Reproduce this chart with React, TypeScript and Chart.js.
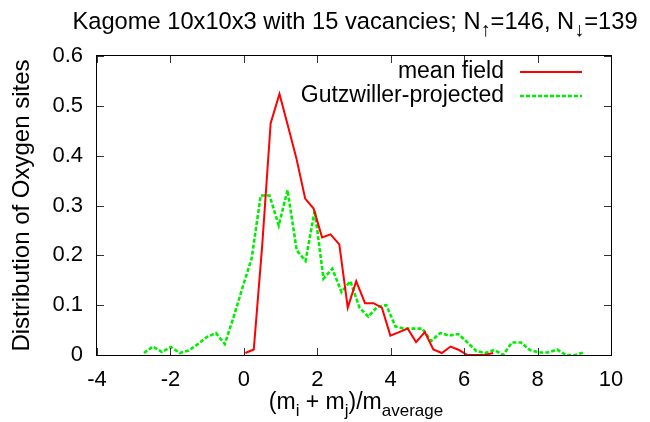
import { useEffect, useRef } from "react";
import { Chart, registerables } from "chart.js";

Chart.register(...registerables);

const FONT = "'Liberation Sans', Arial, Helvetica, sans-serif";

// Histogram of (m_i + m_j)/m_average over Oxygen sites
const meanFieldX = [0.04, 0.27, 0.5, 0.73, 0.97, 1.2, 1.43, 1.67, 1.9, 2.13, 2.36, 2.6, 2.83, 3.06, 3.3, 3.53, 3.76, 3.99, 4.23, 4.46, 4.69, 4.93, 5.16, 5.39, 5.63, 5.86, 6.09, 6.32, 6.56, 6.79];
const meanFieldY = [0.004, 0.011, 0.22, 0.465, 0.524, 0.46, 0.395, 0.314, 0.294, 0.236, 0.242, 0.222, 0.095, 0.148, 0.104, 0.104, 0.095, 0.039, 0.046, 0.053, 0.026, 0.046, 0.011, 0.004, 0.017, 0.01, 0, 0, 0, 0.004];

const gutzwillerX = [-2.72, -2.48, -2.23, -1.99, -1.74, -1.5, -1.25, -1.01, -0.76, -0.52, -0.28, -0.03, 0.21, 0.46, 0.7, 0.95, 1.19, 1.44, 1.68, 1.93, 2.17, 2.41, 2.66, 2.9, 3.15, 3.39, 3.64, 3.88, 4.13, 4.37, 4.62, 4.86, 5.1, 5.35, 5.59, 5.84, 6.08, 6.33, 6.57, 6.82, 7.06, 7.3, 7.55, 7.79, 8.04, 8.28, 8.53, 8.77, 9.02, 9.26];
const gutzwillerY = [0.004, 0.017, 0.006, 0.016, 0.004, 0.009, 0.022, 0.036, 0.044, 0.022, 0.076, 0.137, 0.193, 0.32, 0.32, 0.26, 0.331, 0.21, 0.189, 0.29, 0.153, 0.173, 0.126, 0.148, 0.095, 0.077, 0.097, 0.1, 0.057, 0.053, 0.053, 0.053, 0.028, 0.044, 0.039, 0.042, 0.026, 0.008, 0.004, 0.01, 0, 0.025, 0.025, 0.01, 0.005, 0.005, 0.011, 0, 0, 0.005];

const xTicks = [-4, -2, 0, 2, 4, 6, 8, 10];
const yTicks = [0, 0.1, 0.2, 0.3, 0.4, 0.5, 0.6];

const seriesNames = ["mean field", "Gutzwiller-projected"];
const seriesColors = ["#ff0000", "#00ee00"];

// [text, isSubscript]
const titleParts: [string, boolean][] = [
  ["Kagome 10x10x3 with 15 vacancies; N", false],
  ["\u2191", true],
  ["=146, N", false],
  ["\u2193", true],
  ["=139", false],
];
const xTitleParts: [string, boolean][] = [
  ["(m", false],
  ["i", true],
  [" + m", false],
  ["j", true],
  [")/m", false],
  ["average", true],
];
const yTitle = "Distribution of Oxygen sites";

const TEXT_SIZE = 23;
const TITLE_SIZE = 23.7;
const TICK_SIZE = 22;

function drawRich(ctx: CanvasRenderingContext2D, parts: [string, boolean][], cx: number, baseline: number, size: number, subScale: number) {
  const sub = Math.round(size * subScale);
  const widths = parts.map(([t, s]) => {
    ctx.font = `${s ? sub : size}px ${FONT}`;
    return ctx.measureText(t).width;
  });
  const total = widths.reduce((a, b) => a + b, 0);
  let x = cx - total / 2;
  ctx.textAlign = "left";
  ctx.textBaseline = "alphabetic";
  parts.forEach(([t, s], i) => {
    ctx.font = `${s ? sub : size}px ${FONT}`;
    ctx.fillText(t, x, baseline + (s ? size * 0.3 : 0));
    x += widths[i];
  });
}

const gnuplotFrame = {
  id: "gnuplotFrame",
  afterDatasetsDraw(chart: any) {
    const { ctx, chartArea } = chart;
    const { left, right, top, bottom } = chartArea;
    const xs = chart.scales.x;
    const ys = chart.scales.y;
    ctx.save();

    // inward tick marks on all four sides
    ctx.strokeStyle = "#333";
    ctx.lineWidth = 1;
    const tl = 7;
    ctx.beginPath();
    xTicks.forEach((v) => {
      const px = Math.round(xs.getPixelForValue(v)) + 0.5;
      ctx.moveTo(px, bottom);
      ctx.lineTo(px, bottom - tl);
      ctx.moveTo(px, top);
      ctx.lineTo(px, top + tl);
    });
    yTicks.forEach((v) => {
      const py = Math.round(ys.getPixelForValue(v)) + 0.5;
      ctx.moveTo(left, py);
      ctx.lineTo(left + tl, py);
      ctx.moveTo(right, py);
      ctx.lineTo(right - tl, py);
    });
    ctx.stroke();

    // border
    ctx.strokeStyle = "#000";
    ctx.lineWidth = 1;
    ctx.strokeRect(left - 0.5, top - 0.5, right - left + 1, bottom - top + 1);

    // key, top right
    ctx.fillStyle = "#000";
    ctx.font = `${TEXT_SIZE}px ${FONT}`;
    ctx.textAlign = "right";
    ctx.textBaseline = "middle";
    const rows = [top + 16, top + 40];
    chart.data.datasets.forEach((ds: any, i: number) => {
      const y = rows[i];
      ctx.fillText(seriesNames[i], right - 107, y);
      ctx.save();
      ctx.strokeStyle = ds.borderColor;
      ctx.lineWidth = ds.borderWidth;
      ctx.setLineDash(ds.borderDash || []);
      ctx.beginPath();
      ctx.moveTo(right - 91, y);
      ctx.lineTo(right - 29, y);
      ctx.stroke();
      ctx.restore();
    });

    // title and x-axis label with subscripts
    const cx = (left + right) / 2;
    ctx.fillStyle = "#000";
    drawRich(ctx, titleParts, cx + 1, 29, TITLE_SIZE, 0.85);
    drawRich(ctx, xTitleParts, cx + 2, 409, TEXT_SIZE, 0.74);

    ctx.restore();
  },
};

export default function App() {
  const canvasRef = useRef<HTMLCanvasElement | null>(null);

  useEffect(() => {
    const canvas = canvasRef.current;
    if (!canvas) return;
    const chart = new Chart(canvas, {
      type: "line",
      data: {
        datasets: [
          {
            label: seriesNames[0],
            data: meanFieldX.map((x, i) => ({ x, y: meanFieldY[i] })),
            borderColor: seriesColors[0],
            borderWidth: 2,
            pointRadius: 0,
            tension: 0,
            fill: false,
          },
          {
            label: seriesNames[1],
            data: gutzwillerX.map((x, i) => ({ x, y: gutzwillerY[i] })),
            borderColor: seriesColors[1],
            borderWidth: 2.6,
            borderDash: [4, 2],
            pointRadius: 0,
            tension: 0,
            fill: false,
          },
        ],
      },
      options: {
        responsive: true,
        maintainAspectRatio: false,
        animation: false,
        layout: { padding: { top: 56, right: 39, left: 0, bottom: 0 } },
        plugins: {
          legend: { display: false },
          title: { display: false },
          tooltip: { enabled: false },
        },
        scales: {
          x: {
            type: "linear",
            min: -4,
            max: 10,
            afterBuildTicks: (s: any) => {
              s.ticks = xTicks.map((value) => ({ value }));
            },
            afterFit: (s: any) => {
              s.height = 67;
            },
            grid: { display: false, drawTicks: false },
            border: { display: false },
            ticks: {
              color: "#000",
              font: { family: FONT, size: TICK_SIZE },
              padding: 12,
              maxRotation: 0,
              autoSkip: false,
            },
          },
          y: {
            type: "linear",
            min: 0,
            max: 0.6,
            afterBuildTicks: (s: any) => {
              s.ticks = yTicks.map((value) => ({ value }));
            },
            afterFit: (s: any) => {
              s.width = 97;
            },
            grid: { display: false, drawTicks: false },
            border: { display: false },
            ticks: {
              color: "#000",
              font: { family: FONT, size: TICK_SIZE },
              padding: 14,
              autoSkip: false,
              callback: (v: any) => String(Math.round(Number(v) * 10) / 10),
            },
            title: {
              display: true,
              text: yTitle,
              color: "#000",
              font: { family: FONT, size: 24 },
              padding: { top: 8, bottom: 0 },
            },
          },
        },
      },
      plugins: [gnuplotFrame],
    });
    return () => chart.destroy();
  }, []);

  return (
    <div style={{ position: "fixed", left: 0, top: 0, width: 650, height: 422, background: "#fff" }}>
      <canvas ref={canvasRef} />
    </div>
  );
}
